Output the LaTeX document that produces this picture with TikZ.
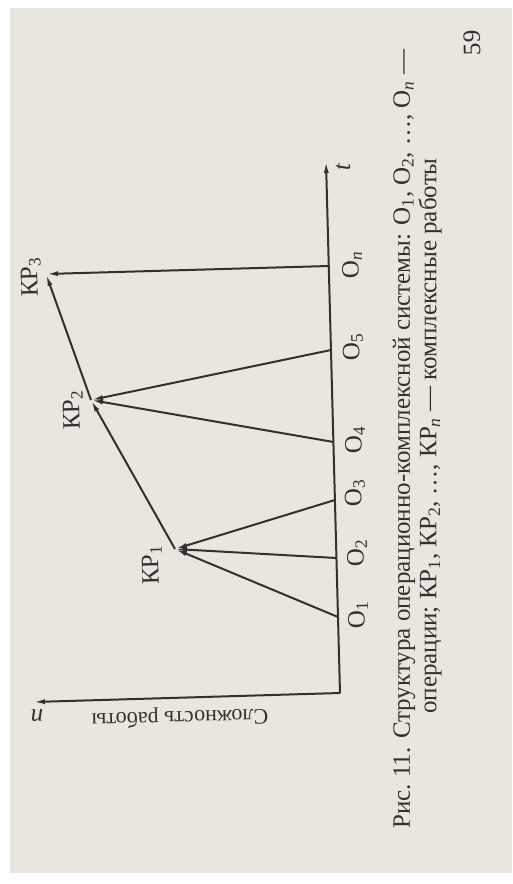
\documentclass[tikz,border=0pt]{standalone}
\usepackage{fontspec}
\setmainfont{Liberation Serif}
\usetikzlibrary{arrows.meta}
\definecolor{paper}{RGB}{233,229,223}
\definecolor{ink}{RGB}{52,48,48}
\begin{document}
\begin{tikzpicture}[x=1pt,y=-1pt,line width=2pt,color=ink,
    arr/.style={-{Latex[length=12pt,width=5pt]}},
    lbl/.style={font=\fontsize{25}{27}\selectfont,inner sep=0pt},
    up/.style={rotate=91.5}]
    \useasboundingbox (0,0) rectangle (512,884);
    \fill[white] (0,0) rectangle (512,884);
    \fill[paper] (10,8) rectangle (512,873);

    % axes
    \coordinate (corner) at (340,693);
    \coordinate (tend) at (326,161);
    \coordinate (nend) at (33,702);
    \draw[arr] (corner) -- (tend);
    \draw[arr] (corner) -- (nend);
    \node[lbl,up,font=\fontsize{25}{27}\selectfont\itshape] (t) at (343,167) {t};
    \node[lbl,rotate=181.5,font=\fontsize{25}{27}\selectfont\itshape] (n) at (37,716) {n};
    \node[lbl,rotate=181.5,font=\fontsize{22}{24}\selectfont] (slozh) at (180,717) {Сложность работы};

    % operations on the t axis
    \coordinate (o1) at (338,617);
    \coordinate (o2) at (336.4,558);
    \coordinate (o3) at (334.9,500);
    \coordinate (o4) at (333.4,442);
    \coordinate (o5) at (331,350);
    \coordinate (on) at (328.7,266);
    \node[lbl,up] (o1lbl) at (358,615) {О\textsubscript{1}};
    \node[lbl,up] (o2lbl) at (357,553) {О\textsubscript{2}};
    \node[lbl,up] (o3lbl) at (355,493) {О\textsubscript{3}};
    \node[lbl,up] (o4lbl) at (355,440) {О\textsubscript{4}};
    \node[lbl,up] (o5lbl) at (353,347) {О\textsubscript{5}};
    \node[lbl,up] (onlbl) at (352,265) {О\textsubscript{\textit{n}}};

    % complex works
    \coordinate (kp1) at (175,549);
    \coordinate (kp2) at (91,400);
    \coordinate (kp3) at (46,274);
    \node[lbl,up] (kp1lbl) at (152,565) {КР\textsubscript{1}};
    \node[lbl,up] (kp2lbl) at (73,410) {КР\textsubscript{2}};
    \node[lbl,up] (kp3lbl) at (31,277) {КР\textsubscript{3}};

    \draw[arr] (o1) -- (kp1);
    \draw[arr] (o2) -- (kp1);
    \draw[arr] (o3) -- (kp1);
    \draw[arr] (kp1) -- (kp2);
    \draw[arr] (o4) -- (kp2);
    \draw[arr] (o5) -- (kp2);
    \draw[arr] (kp2) -- (kp3);
    \draw[arr] (on) -- (kp3);

    % caption and page number
    \node[lbl,rotate=90] (caption1) at (404,439)
        {Рис.~11. Структура операционно-комплексной системы: О\textsubscript{1}, О\textsubscript{2}, …, О\textsubscript{\textit{n}} —};
    \node[lbl,rotate=90] (caption2) at (430,436)
        {операции; КР\textsubscript{1}, КР\textsubscript{2}, …, КР\textsubscript{\textit{n}} — комплексные работы};
    \node[lbl,up] (page) at (472,43) {59};
\end{tikzpicture}
\end{document}
